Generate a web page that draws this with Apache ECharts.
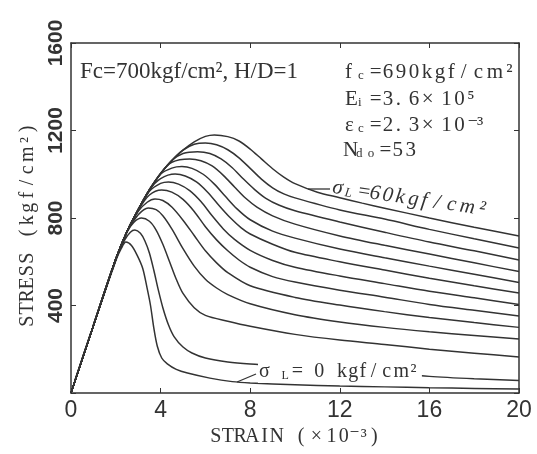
<!DOCTYPE html>
<html>
<head>
<meta charset="utf-8">
<script src="https://cdn.jsdelivr.net/npm/echarts@6/dist/echarts.min.js"></script>
<style>
  html, body { margin: 0; padding: 0; background: #fff; }
  #chart { width: 537px; height: 454px; }
</style>
</head>
<body>
<div id="chart"></div>
<script>
// Stress–strain curves of confined concrete (Fc=700, H/D=1) for lateral stress σL = 0 … 60 kgf/cm²
// Each curve: [strain (×10^-3), stress (kgf/cm²)]
const strainTicks = [0, 4, 8, 12, 16, 20];
const stressTicks = [0, 400, 800, 1200, 1600];
const lateralStress = [0, 5, 10, 15, 20, 25, 30, 35, 40, 45, 50, 55, 60];

const curveL0 = [[0,0],[1,308],[2,605],[2.25,662],[2.45,690],[2.7,674],[2.95,630],[3.2,570],[3.4,478],[3.55,400],[3.7,295],[3.85,215],[4.05,160],[4.3,133],[4.7,108],[5.2,91],[6.2,68],[7.2,52],[8,46],[10,38],[12,32],[14,28],[16,24],[18,21],[20,18]];
const curveL5 = [[0,0],[1,308],[2,612],[2.4,700],[2.65,735],[2.85,745],[3.1,730],[3.3,695],[3.5,640],[3.7,560],[3.9,470],[4.1,390],[4.35,312],[4.6,258],[5,210],[5.4,183],[6,160],[7,142],[8,133],[10,122],[12,110],[14,94],[16,76],[18,65],[20,57]];
const curveL10 = [[0,0],[1,308],[2,612],[2.5,735],[2.8,780],[3.15,800],[3.5,785],[3.8,745],[4.1,680],[4.4,600],[4.7,520],[5,455],[5.5,390],[6,355],[7,328],[8,305],[10,268],[12,242],[14,222],[16,200],[18,182],[20,165]];
const curveL15 = [[0,0],[1,308],[2,612],[2.5,738],[3,815],[3.45,846],[3.8,838],[4.1,810],[4.5,750],[5,660],[5.5,580],[6,520],[6.5,480],[7,450],[8,408],[10,358],[12,325],[14,300],[16,280],[18,263],[20,247]];
const curveL20 = [[0,0],[1,308],[2,612],[2.5,738],[3,830],[3.4,872],[3.75,887],[4.1,880],[4.5,850],[5,790],[5.5,720],[6,650],[6.5,595],[7,550],[8,490],[10,437],[12,402],[14,372],[16,345],[18,322],[20,300]];
const curveL25 = [[0,0],[1,308],[2,612],[2.5,738],[3,835],[3.5,905],[4.05,928],[4.5,918],[5,885],[5.5,830],[6,760],[6.5,700],[7,650],[7.5,608],[8,575],[9,532],[10,507],[12,470],[14,438],[16,405],[18,378],[20,352]];
const curveL30 = [[0,0],[1,308],[2,612],[2.5,738],[3,838],[3.5,922],[4,958],[4.35,965],[4.8,955],[5.3,925],[5.8,875],[6.3,810],[6.8,750],[7.3,702],[8,652],[9,606],[10,575],[12,535],[14,500],[16,465],[18,435],[20,405]];
const curveL35 = [[0,0],[1,308],[2,612],[2.5,738],[3,838],[3.5,928],[4,980],[4.65,1001],[5.1,992],[5.6,965],[6.1,918],[6.6,858],[7.1,802],[7.6,755],[8,727],[9,680],[10,643],[12,600],[14,562],[16,525],[18,490],[20,457]];
const curveL40 = [[0,0],[1,308],[2,612],[2.5,738],[3,838],[3.5,930],[4,1000],[4.5,1028],[4.95,1035],[5.4,1027],[5.9,1000],[6.4,955],[6.9,898],[7.4,843],[8,792],[9,740],[10,708],[12,658],[14,618],[16,580],[18,543],[20,505]];
const curveL45 = [[0,0],[1,308],[2,612],[2.5,738],[3,838],[3.5,928],[4,1005],[4.5,1055],[5.3,1070],[5.8,1062],[6.3,1038],[6.8,995],[7.3,942],[7.8,890],[8.3,850],[9,810],[10,772],[12,718],[14,675],[16,635],[18,595],[20,555]];
const curveL50 = [[0,0],[1,308],[2,612],[2.5,738],[3,838],[3.5,928],[4,1003],[4.5,1063],[5,1095],[5.65,1103],[6.2,1095],[6.7,1070],[7.2,1030],[7.7,978],[8.2,930],[8.7,890],[9.3,858],[10,833],[12,782],[14,735],[16,690],[18,650],[20,608]];
const curveL55 = [[0,0],[1,308],[2,612],[2.5,738],[3,838],[3.5,928],[4,1003],[4.5,1063],[5,1110],[5.5,1137],[6,1143],[6.5,1135],[7,1112],[7.5,1075],[8,1027],[8.5,978],[9,938],[9.5,910],[10,892],[12,837],[14,795],[16,748],[18,705],[20,663]];
const curveL60 = [[0,0],[1,308],[2,612],[2.5,738],[3,838],[3.5,928],[4,1003],[4.5,1063],[5,1110],[5.5,1148],[6,1173],[6.4,1180],[7,1172],[7.5,1152],[8,1115],[8.5,1070],[9,1025],[9.5,987],[10,957],[11,918],[12,893],[13,868],[14,845],[16,800],[18,758],[20,718]];

const curves = [curveL0, curveL5, curveL10, curveL15, curveL20, curveL25, curveL30,
                curveL35, curveL40, curveL45, curveL50, curveL55, curveL60];

const ink = '#333';
const serif = '"Liberation Serif", "DejaVu Serif", serif';
const sans = '"Liberation Sans", Arial, sans-serif';

// Typewriter-like spacing: every character sits in a fixed-width cell.
// segments: [[text, key]] with key 'a' (normal), 's' (subscript), 'p' (superscript glyph).
// 'm' and '×' get a wider cell.
function cellText(segments) {
  return segments.map(([txt, key]) =>
    Array.from(txt).map(ch => '{' + key + ((ch === 'm' || ch === '×') && key === 'a' ? 'W' : '') + '|' + ch + '}').join('')
  ).join('');
}
function cellStyles(size, w, extra) {
  const base = Object.assign({ fontFamily: serif, color: ink, fill: ink }, extra || {});
  return {
    a:  Object.assign({}, base, { fontSize: size, width: w }),
    aW: Object.assign({}, base, { fontSize: size, width: w * 1.5 }),
    s:  Object.assign({}, base, { fontSize: Math.round(size * 0.6), width: w * 0.9, padding: [Math.round(size * 0.35), 0, 0, 0] }),
    p:  Object.assign({}, base, { fontSize: size, width: w * 0.75 })
  };
}

const chart = echarts.init(document.getElementById('chart'), null, { renderer: 'canvas' });

const series = curves.map((pts, i) => ({
  name: 'σL=' + lateralStress[i],
  type: 'line',
  data: pts,
  showSymbol: false,
  smooth: 0.3,
  lineStyle: { color: ink, width: 1.5 },
  z: 2
}));

const blockStyles = cellStyles(21, 13);

chart.setOption({
  animation: false,
  backgroundColor: '#fff',
  grid: { left: 71, right: 18, top: 43, bottom: 61 },
  xAxis: [{
    type: 'value', min: strainTicks[0], max: strainTicks[strainTicks.length - 1], interval: 4,
    name: cellText([['STRAIN (×10', 'a'], ['⁻³', 'p'], [')', 'a']]),
    nameLocation: 'middle', nameGap: 33,
    nameTextStyle: { rich: cellStyles(20, 12.2) },
    axisLine: { lineStyle: { color: ink, width: 1.5 } },
    axisTick: { inside: true, length: 5, lineStyle: { color: ink } },
    axisLabel: { fontFamily: sans, fontSize: 23, color: ink, margin: 6 },
    splitLine: { show: false }
  }, {
    type: 'value', position: 'top', min: 0, max: 20, interval: 4,
    axisLine: { show: true, onZero: false, lineStyle: { color: ink, width: 1.5 } },
    axisTick: { inside: true, length: 5, lineStyle: { color: ink } },
    axisLabel: { show: false }, splitLine: { show: false }
  }],
  yAxis: [{
    type: 'value', min: stressTicks[0], max: stressTicks[stressTicks.length - 1], interval: 400,
    name: cellText([['STRESS (kgf/cm', 'a'], ['²', 'p'], [')', 'a']]),
    nameLocation: 'middle', nameGap: 33, nameRotate: 90,
    nameTextStyle: { rich: cellStyles(20, 12.6), padding: [0, 14, 0, 0] },
    axisLine: { show: true, lineStyle: { color: ink, width: 1.5 } },
    axisTick: { show: true, inside: true, length: 5, lineStyle: { color: ink } },
    axisLabel: {
      rotate: 90, fontFamily: sans, fontWeight: 'bold',
      fontSize: 21, color: ink, margin: 4,
      formatter: v => (v === 0 ? '' : String(v))
    },
    splitLine: { show: false }
  }, {
    type: 'value', position: 'right', min: 0, max: 1600, interval: 400,
    axisLine: { show: true, onZero: false, lineStyle: { color: ink, width: 1.5 } },
    axisTick: { show: true, inside: true, length: 5, lineStyle: { color: ink } },
    axisLabel: { show: false }, splitLine: { show: false }
  }],
  series: series,
  graphic: [
    {
      type: 'text', x: 80, y: 60, z: 10,
      style: { text: 'Fc=700kgf/cm², H/D=1', font: '23px ' + serif, fill: ink }
    },
    {
      type: 'text', x: 345, y: 62, z: 10,
      style: { text: cellText([['f', 'a'], ['c', 's'], ['=690kgf/cm', 'a'], ['²', 'p']]), font: '21px ' + serif, fill: ink, rich: blockStyles }
    },
    {
      type: 'text', x: 345, y: 89, z: 10,
      style: { text: cellText([['E', 'a'], ['i', 's'], ['=3.6×10', 'a'], ['⁵', 'p']]), font: '21px ' + serif, fill: ink, rich: blockStyles }
    },
    {
      type: 'text', x: 345, y: 115, z: 10,
      style: { text: cellText([['ε', 'a'], ['c', 's'], ['=2.3×10', 'a'], ['⁻³', 'p']]), font: '21px ' + serif, fill: ink, rich: blockStyles }
    },
    {
      type: 'text', x: 343, y: 140, z: 10,
      style: { text: cellText([['N', 'a'], ['d', 's'], ['o', 's'], ['=53', 'a']]), font: '21px ' + serif, fill: ink, rich: blockStyles }
    },
    // label of the top curve
    {
      type: 'line', z: 10,
      shape: { x1: 308, y1: 189, x2: 330, y2: 189 },
      style: { stroke: ink, lineWidth: 1.3 }
    },
    {
      type: 'text', x: 334, y: 177, rotation: -0.145, z: 10,
      style: {
        text: cellText([['σ', 'a'], ['L', 's'], ['=60kgf/cm', 'a'], ['²', 'p']]), font: 'italic 21px ' + serif, fill: ink,
        rich: cellStyles(21, 13, { fontStyle: 'italic' })
      }
    },
    // label of the bottom curve
    {
      type: 'line', z: 10,
      shape: { x1: 237, y1: 382, x2: 256, y2: 374 },
      style: { stroke: ink, lineWidth: 1.3 }
    },
    {
      type: 'text', x: 258, y: 361, z: 10,
      style: {
        text: cellText([['σ ', 'a'], ['L', 's'], ['= 0 kgf/cm', 'a'], ['²', 'p']]), font: '20px ' + serif, fill: ink,
        backgroundColor: '#fff', padding: [1, 3, 1, 1],
        rich: cellStyles(20, 11.3)
      }
    }
  ]
});
</script>
</body>
</html>
